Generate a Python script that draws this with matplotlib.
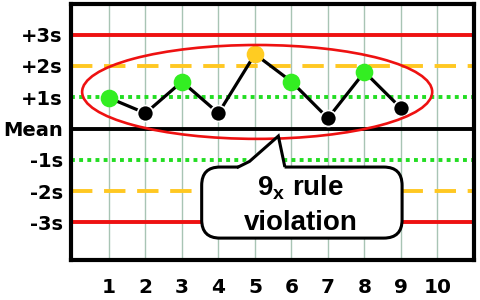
import matplotlib
matplotlib.use("Agg")
import matplotlib.pyplot as plt
from matplotlib.patches import Ellipse, FancyBboxPatch, Polygon

# run number and value (in units of s from the mean)
runs = [1, 2, 3, 4, 5, 6, 7, 8, 9]
values = [0.98, 0.49, 1.5, 0.49, 2.38, 1.5, 0.33, 1.81, 0.65]
point_colors = ['#33ee22', 'black', '#33ee22', 'black', '#ffcc22',
                '#33ee22', 'black', '#33ee22', 'black']

xticks = [1, 2, 3, 4, 5, 6, 7, 8, 9, 10]
level_values = [3, 2, 1, 0, -1, -2, -3]
level_labels = ['+3s', '+2s', '+1s', 'Mean', '-1s', '-2s', '-3s']

red = '#ee1111'
gold = '#ffc822'
green = '#22dd22'

fig = plt.figure(figsize=(4.8, 3.0), dpi=100)
ax = fig.add_axes([71 / 480, 40 / 300, 403 / 480, 256 / 300])
ax.set_xlim(-0.04, 11.0)
ax.set_ylim(-4.2, 3.98)

# vertical grid
for x in xticks:
    ax.axvline(x, color='#a8c4b4', lw=1.0, zorder=1)

# control lines
lw_ctl = 2.8
ax.axhline(3, color=red, lw=lw_ctl, zorder=2)
ax.axhline(-3, color=red, lw=lw_ctl, zorder=2)
ax.axhline(2, color=gold, lw=lw_ctl, dashes=(5.5, 3), zorder=2)
ax.axhline(-2, color=gold, lw=lw_ctl, dashes=(5.5, 3), zorder=2)
ax.axhline(1, color=green, lw=lw_ctl, dashes=(1, 1.1), dash_capstyle='butt', zorder=2)
ax.axhline(-1, color=green, lw=lw_ctl, dashes=(1, 1.1), dash_capstyle='butt', zorder=2)
ax.axhline(0, color='black', lw=lw_ctl, zorder=2)

# data
ax.plot(runs, values, color='black', lw=2.3, zorder=3)
for x, y, c in zip(runs, values, point_colors):
    ec = 'white' if c == 'black' else c
    ax.plot(x, y, 'o', ms=11.5, mfc=c, mec=ec, mew=1.2, zorder=4)

# ellipse around the run
ax.add_patch(Ellipse((5.06, 1.17), 9.59, 3.0, fill=False, ec=red, lw=1.9, zorder=5))

# callout box
box = FancyBboxPatch((3.54, -3.5), 5.49, 2.27,
                     boxstyle='round,pad=0,rounding_size=0.5',
                     mutation_aspect=1.17, fc='white', ec='black', lw=2.2, zorder=6)
ax.add_patch(box)
tip = (5.64, -0.24)
base_l = (4.54, -1.23)
base_r = (5.81, -1.18)
ax.add_patch(Polygon([base_l, tip, base_r, (5.81, -1.3), (4.54, -1.3)],
                     closed=True, fc='white', ec='none', zorder=7))
ax.plot([base_l[0], 4.85, tip[0], base_r[0]],
        [base_l[1], -1.05, tip[1], base_r[1]],
        color='black', lw=2.2, solid_joinstyle='miter', zorder=8)

callout_font = dict(family='Liberation Sans', weight='bold', size=20)
ax.text(6.25, -2.12, r'9$_\mathregular{x}$ rule', ha='center', va='baseline',
        zorder=9, **callout_font)
ax.text(6.25, -3.24, 'violation', ha='center', va='baseline', zorder=9, **callout_font)

# axes styling
for sp in ax.spines.values():
    sp.set_linewidth(3.0)
    sp.set_color('black')
ax.set_xticks(xticks)
ax.set_xticklabels([str(t) for t in xticks], fontsize=14.5, fontweight='bold')
ax.set_yticks(level_values)
ax.set_yticklabels(level_labels, fontsize=14, fontweight='bold')
ax.tick_params(axis='x', length=0, pad=13)
ax.tick_params(axis='y', length=0, pad=6)

fig.savefig('out.png', dpi=100)
